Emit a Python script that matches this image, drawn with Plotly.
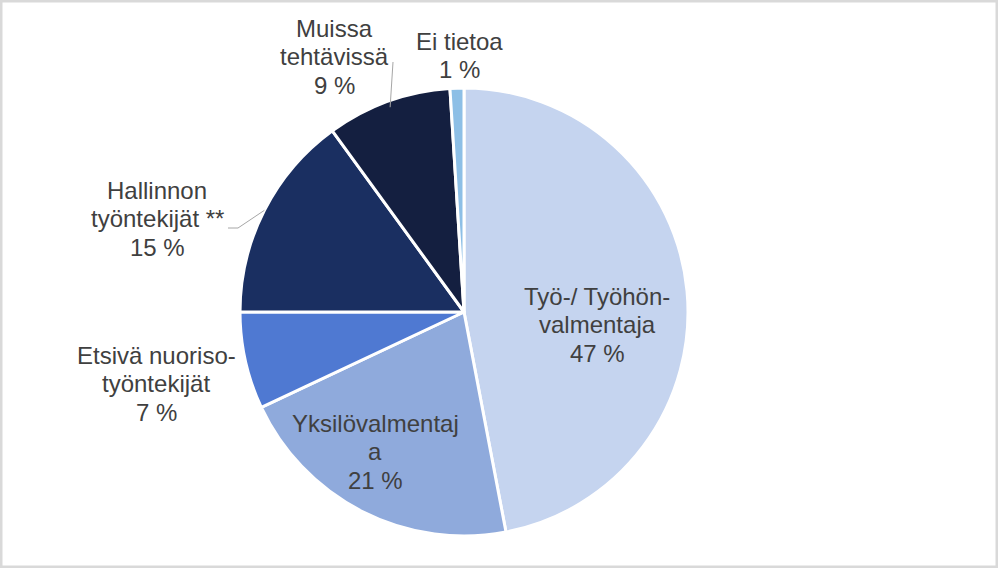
import math
import plotly.graph_objects as go

categories = ["Työ-/ Työhönvalmentaja", "Yksilövalmentaja", "Etsivä nuorisotyöntekijät",
              "Hallinnon työntekijät **", "Muissa tehtävissä", "Ei tietoa"]
values = [47, 21, 7, 15, 9, 1]
label_lines = [["Työ-/ Työhön-", "valmentaja"], ["Yksilövalmentaj", "a"], ["Etsivä nuoriso-", "työntekijät"],
               ["Hallinnon", "työntekijät **"], ["Muissa", "tehtävissä"], ["Ei tietoa"]]
colors = ["#C5D4EF", "#8FAADC", "#4F79D2", "#1A2F61", "#141F40", "#8DBFE6"]

W, H = 998, 568
CX, CY, R = 464, 312, 224
FS = 24
LINE = 28.5

# (centre x, baseline of first line) in pixels for each label block
label_pos = [(597, 305), (375, 432), (156, 364), (157, 199), (334, 37), (459, 50)]
leader = [False, False, False, True, True, False]

fig = go.Figure(go.Pie(
    labels=categories, values=values, sort=False, direction="clockwise", rotation=0,
    marker=dict(colors=colors, line=dict(color="white", width=3)),
    textinfo="none", hoverinfo="label+percent", showlegend=False,
    domain=dict(x=[(CX - R) / W, (CX + R) / W], y=[1 - (CY + R) / H, 1 - (CY - R) / H]),
))

total = sum(values)
annotations = []
shapes = []
cum = 0
for i, v in enumerate(values):
    pct = round(100 * v / total)
    lines = label_lines[i] + [f"{pct} %"]
    lx, ly = label_pos[i]
    for k, t in enumerate(lines):
        base = ly + k * LINE
        annotations.append(dict(
            x=lx / W, y=1 - (base - 0.36 * FS) / H, xref="paper", yref="paper",
            text=t, showarrow=False, xanchor="center", yanchor="middle", align="center",
            font=dict(family="Liberation Sans, Arial, sans-serif", size=FS, color="#404040"),
        ))
    mid = (cum + v / 2) / total * 2 * math.pi
    ex = CX + R * math.sin(mid)
    ey = CY - R * math.cos(mid)
    if leader[i]:
        if i == 3:
            pts = [(228, 228), (238, 228), (ex, ey)]
        else:
            pts = [(393, 62), (ex + 2, ey + 6)]
        for (x0, y0), (x1, y1) in zip(pts[:-1], pts[1:]):
            shapes.append(dict(type="line", xref="paper", yref="paper",
                               x0=x0 / W, y0=1 - y0 / H, x1=x1 / W, y1=1 - y1 / H,
                               line=dict(color="#A6A6A6", width=1)))
    cum += v

shapes.append(dict(type="rect", xref="paper", yref="paper", x0=0, y0=0, x1=1, y1=1,
                   line=dict(color="#D9D9D9", width=5)))

fig.update_layout(
    width=W, height=H, margin=dict(l=0, r=0, t=0, b=0),
    paper_bgcolor="white", plot_bgcolor="white",
    annotations=annotations, shapes=shapes,
)

fig.write_html("out.html")
